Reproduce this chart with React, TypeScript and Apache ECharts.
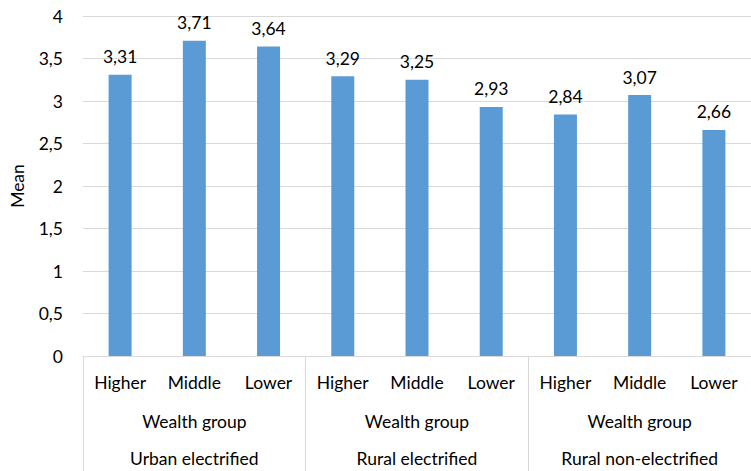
import React, { useEffect, useRef } from "react";
import * as echarts from "echarts";

const levels = ["Higher", "Middle", "Lower", "Higher", "Middle", "Lower", "Higher", "Middle", "Lower"];
const means = [3.31, 3.71, 3.64, 3.29, 3.25, 2.93, 2.84, 3.07, 2.66];
const groups = ["Urban electrified", "Rural electrified", "Rural non-electrified"];
const subGroupLabel = ["Wealth group", "Wealth group", "Wealth group"];

const FONT = "Lato, 'Open Sans', sans-serif";
const FS = 17.5;
const comma = (v: number) => String(v).replace(".", ",");

export default function App() {
  const ref = useRef<HTMLDivElement>(null);
  useEffect(() => {
    if (!ref.current) return;
    const chart = echarts.init(ref.current, null, { renderer: "svg" });
    chart.setOption({
      animation: false,
      textStyle: { fontFamily: FONT },
      grid: { left: 80, right: -9, top: 16, bottom: 115, containLabel: false },
      yAxis: {
        type: "value",
        min: 0,
        max: 4,
        interval: 0.5,
        name: "Mean",
        nameLocation: "middle",
        nameGap: 57,
        nameRotate: 90,
        nameTextStyle: { fontSize: FS, color: "#000", fontFamily: FONT },
        axisLine: { show: false },
        axisTick: { show: false },
        axisLabel: { fontSize: FS, color: "#000", margin: 20, fontFamily: FONT, formatter: (v: number) => comma(v) },
        splitLine: { lineStyle: { color: "#d9d9d9", width: 1 } },
      },
      xAxis: [
        {
          type: "category",
          data: levels,
          position: "bottom",
          axisLine: { show: true, lineStyle: { color: "#d9d9d9", width: 1 } },
          axisTick: { show: false },
          axisLabel: { fontSize: FS, color: "#000", margin: 17, fontFamily: FONT, interval: 0 },
        },
        {
          type: "category",
          data: groups,
          position: "bottom",
          axisLine: { show: false },
          axisTick: { show: true, length: 116, alignWithLabel: false, lineStyle: { color: "#d9d9d9", width: 1 } },
          axisLabel: { fontSize: FS, color: "#000", margin: 93, fontFamily: FONT, interval: 0 },
        },
        {
          type: "category",
          data: subGroupLabel,
          position: "bottom",
          axisLine: { show: false },
          axisTick: { show: false },
          axisLabel: { fontSize: FS, color: "#000", margin: 56, fontFamily: FONT, interval: 0 },
        },
      ],
      series: [
        {
          type: "bar",
          xAxisIndex: 0,
          data: means,
          barWidth: 23,
          itemStyle: { color: "#5b9bd5" },
          label: {
            show: true,
            position: "top",
            distance: 9,
            fontSize: FS,
            color: "#000",
            fontFamily: FONT,
            formatter: (p: any) => comma(p.value),
          },
        },
      ],
    });
    return () => chart.dispose();
  }, []);
  return <div ref={ref} style={{ width: 751, height: 471, position: "absolute", left: 0, top: 0 }} />;
}
